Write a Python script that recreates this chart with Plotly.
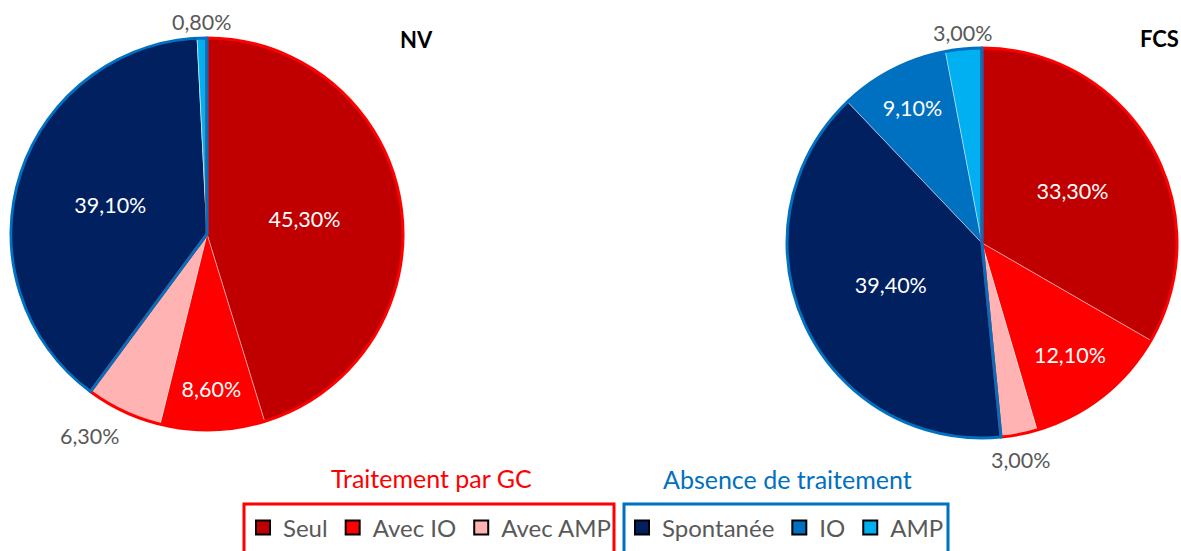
import math
import plotly.graph_objects as go

W, H = 1181, 551

categories = ["Seul", "Avec IO", "Avec AMP", "Spontanée", "IO", "AMP"]
colors = ["#C00000", "#FF0000", "#FFB3B3", "#002060", "#0070C0", "#00B0F0"]
nv_values = [45.3, 8.6, 6.3, 39.1, 0.0, 0.8]
fcs_values = [33.3, 12.1, 3.0, 39.4, 9.1, 3.0]
nv_outside = [False, False, True, False, True, True]
fcs_outside = [False, False, True, False, False, True]
groups = ["Traitement par GC", "Absence de traitement"]
group_colors = ["#FF0000", "#0070C0"]
group_members = [[0, 1, 2], [3, 4, 5]]

FONT = "Lato"
GRAY = "#595959"
LBL = 21.5


def fmt(v):
    return "" if v == 0 else f"{v:.2f}%".replace(".", ",")


fig = go.Figure()
annotations = []

pies = [("NV", nv_values, nv_outside, (207, 234, 196)),
        ("FCS", fcs_values, fcs_outside, (982, 243, 195))]

for name, vals, outside, (cx, cy, r) in pies:
    dom = dict(x=[(cx - r) / W, (cx + r) / W], y=[(H - cy - r) / H, (H - cy + r) / H])
    texts = [("" if o else fmt(v)) for v, o in zip(vals, outside)]
    fig.add_trace(go.Pie(
        labels=categories, values=vals, text=texts,
        textinfo="text", textposition="inside", sort=False, direction="clockwise",
        rotation=0, domain=dom, showlegend=False,
        marker=dict(colors=colors, line=dict(color="rgba(255,255,255,0.5)", width=0.8)),
        insidetextfont=dict(color="white", family=FONT, size=LBL),
        insidetextorientation="horizontal", hoverinfo="label+percent",
    ))
    gvals = [sum(vals[i] for i in m) for m in group_members]
    fig.add_trace(go.Pie(
        labels=groups, values=gvals, textinfo="none", sort=False,
        direction="clockwise", rotation=0, domain=dom, showlegend=False,
        marker=dict(colors=["rgba(0,0,0,0)"] * 2,
                    line=dict(color=group_colors, width=3)),
        hoverinfo="skip",
    ))
    # outside labels placed next to the slice edge (Excel style)
    total = sum(vals)
    cum = 0.0
    for v, o in zip(vals, outside):
        mid = (cum + v / 2) / total
        cum += v
        if not o or v == 0:
            continue
        th = 2 * math.pi * mid
        s, c = math.sin(th), -math.cos(th)
        ex, ey = cx + r * s, cy + r * c
        f = min(1.0, max(0.0, (abs(s) - 0.2) / 0.2))
        lx = ex + 12 * s + 29 * math.copysign(1, s) * f
        ly = ey + 12 * c + 9 * math.copysign(1, c) + 5
        annotations.append(dict(
            text=fmt(v), x=lx / W, y=(H - ly) / H,
            xref="paper", yref="paper", xanchor="center", yanchor="middle",
            showarrow=False, font=dict(family=FONT, size=LBL, color=GRAY)))

# legend entries
for i, (cat, col) in enumerate(zip(categories, colors)):
    fig.add_trace(go.Scatter(
        x=[None], y=[None], mode="markers", name=cat,
        marker=dict(symbol="square", size=14, color=col,
                    line=dict(color="black", width=2)),
        legend="legend" if i < 3 else "legend2", hoverinfo="skip",
    ))

legend_common = dict(orientation="h", yanchor="middle", y=(H - 528) / H,
                     xanchor="left", bgcolor="rgba(0,0,0,0)",
                     font=dict(family=FONT, size=24, color=GRAY),
                     borderwidth=0, itemclick=False, itemdoubleclick=False)

annotations += [
    dict(text="<b>NV</b>", x=416 / W, y=(H - 39) / H, xref="paper", yref="paper",
         xanchor="center", yanchor="middle",
         showarrow=False, font=dict(family=FONT, size=22, color="black")),
    dict(text="<b>FCS</b>", x=1159 / W, y=(H - 38) / H, xref="paper", yref="paper",
         xanchor="center", yanchor="middle",
         showarrow=False, font=dict(family=FONT, size=22, color="black")),
    dict(text=groups[0], x=431 / W, y=(H - 478) / H, xref="paper", yref="paper",
         xanchor="center", yanchor="middle",
         showarrow=False, font=dict(family=FONT, size=25, color=group_colors[0])),
    dict(text=groups[1], x=787 / W, y=(H - 479) / H, xref="paper", yref="paper",
         xanchor="center", yanchor="middle",
         showarrow=False, font=dict(family=FONT, size=25, color=group_colors[1])),
]

shapes = [
    dict(type="rect", xref="paper", yref="paper", x0=244 / W, x1=614 / W,
         y0=(H - 504) / H, y1=-0.05, line=dict(color=group_colors[0], width=3)),
    dict(type="rect", xref="paper", yref="paper", x0=624 / W, x1=948 / W,
         y0=(H - 504) / H, y1=-0.05, line=dict(color=group_colors[1], width=3)),
]

fig.update_layout(
    width=W, height=H, margin=dict(l=0, r=0, t=0, b=0),
    paper_bgcolor="white", plot_bgcolor="white",
    xaxis=dict(visible=False), yaxis=dict(visible=False),
    legend=dict(x=243 / W, **legend_common),
    legend2=dict(x=622 / W, **legend_common),
    annotations=annotations, shapes=shapes,
    font=dict(family=FONT),
)

fig.write_html("out.html", config={"displayModeBar": False},
               post_script="document.body.style.margin='0';")
